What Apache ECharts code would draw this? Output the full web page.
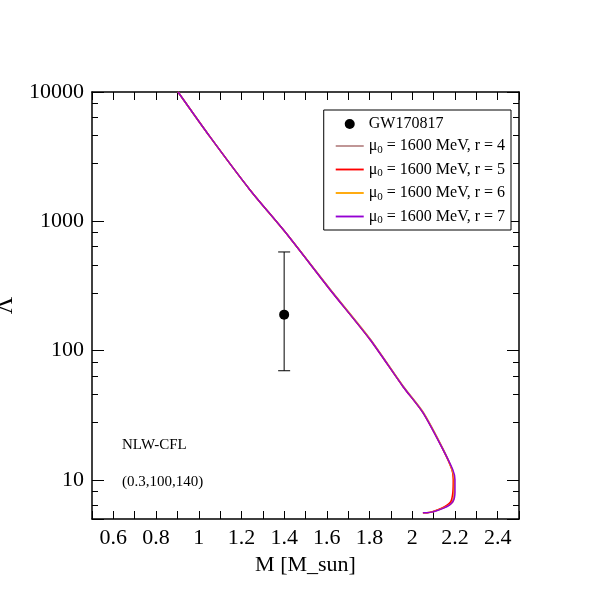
<!DOCTYPE html>
<html>
<head>
<meta charset="utf-8">
<script src="https://cdn.jsdelivr.net/npm/echarts@6/dist/echarts.min.js"></script>
</head>
<body style="margin:0;background:#fff">
<div id="chart" style="width:612px;height:612px"></div>
<script>
// mass (M_sun) and tidal deformability for each r
var massR4 = [0.903, 1.053, 1.24, 1.404, 1.615, 1.802, 1.957, 2.05, 2.144, 2.186, 2.195, 2.195, 2.186, 2.144, 2.069, 2.05];
var lamR4  = [10000, 4495, 1750, 830, 300, 124, 53.5, 33.8, 17.5, 12.2, 10.1, 8.0, 6.8, 6.1, 5.6, 5.6];
var massR5 = [0.903, 1.053, 1.24, 1.404, 1.615, 1.802, 1.957, 2.05, 2.144, 2.186, 2.192, 2.19, 2.18, 2.14, 2.069, 2.05];
var lamR5  = [10000, 4495, 1750, 830, 296, 122, 52.7, 33.2, 17.2, 12.0, 10.1, 8.0, 6.8, 6.1, 5.6, 5.6];
var massR6 = [0.903, 1.053, 1.24, 1.404, 1.615, 1.802, 1.957, 2.05, 2.144, 2.186, 2.197, 2.197, 2.19, 2.147, 2.069, 2.05];
var lamR6  = [10000, 4495, 1750, 830, 298, 123, 53, 33.5, 17.3, 12.1, 10.1, 8.0, 6.8, 6.1, 5.6, 5.6];
var massR7 = [0.903, 1.053, 1.24, 1.404, 1.615, 1.802, 1.957, 2.05, 2.144, 2.19, 2.2, 2.2, 2.19, 2.15, 2.069, 2.05];
var lamR7  = [10000, 4495, 1750, 830, 296, 122, 52.7, 33.2, 17.2, 12.0, 10.1, 8.0, 6.8, 6.1, 5.6, 5.6];
var gwMass = 1.4, gwLam = 190, gwLow = 70, gwHigh = 580;

function zip(a, b) { return a.map(function (v, i) { return [v, b[i]]; }); }
var font = 'Liberation Serif';
var chart = echarts.init(document.getElementById('chart'));

function xAx(show) {
    return {
        type: 'value', min: 0.5, max: 2.5, interval: 0.1,
        position: show ? 'bottom' : 'top',
        name: show ? 'M [M_sun]' : '', nameLocation: 'middle', nameGap: 34,
        nameTextStyle: { fontFamily: font, fontSize: 22, color: '#000' },
        axisLine: { lineStyle: { color: '#000', width: 1.5 } },
        axisTick: { inside: true, length: 8, lineStyle: { color: '#000' } },
        axisLabel: {
            show: show, fontFamily: font, fontSize: 22, color: '#000', margin: 8,
            formatter: function (v) {
                var k = Math.round(v * 10);
                if (k % 2 !== 0) return '';
                return String(k / 10);
            }
        },
        splitLine: { show: false }
    };
}
function yAx(show) {
    return {
        type: 'log', logBase: 10, min: 5, max: 10000,
        position: show ? 'left' : 'right',
        name: show ? 'Λ' : '', nameLocation: 'middle', nameGap: 62, nameRotate: 90,
        nameTextStyle: { fontFamily: font, fontSize: 24, color: '#000' },
        axisLine: { lineStyle: { color: '#000', width: 1.5 } },
        axisTick: { inside: true, length: 12, lineStyle: { color: '#000' } },
        minorTick: { show: true, length: 6, lineStyle: { color: '#000' } },
        axisLabel: {
            show: show, fontFamily: font, fontSize: 22, color: '#000', margin: 8,
            formatter: function (v) { return [10, 100, 1000, 10000].indexOf(Math.round(v)) >= 0 ? String(Math.round(v)) : ''; }
        },
        splitLine: { show: false }
    };
}

function line(name, m, l, color) {
    return {
        name: name, type: 'line', data: zip(m, l), showSymbol: false, symbol: 'none',
        smooth: 0.25, lineStyle: { color: color, width: 1.5 }, itemStyle: { color: color }
    };
}
var sub = function (r) { return '{a|μ}{s|0}{a| = 1600 MeV, r = ' + r + '}'; };
var lineIcon = 'path://M0,0h30v2h-30z';

chart.setOption({
    animation: false,
    grid: { left: 92, right: 93, top: 92, bottom: 93, outerBoundsMode: 'none', containLabel: false },
    xAxis: [xAx(true), xAx(false)],
    yAxis: [yAx(true), yAx(false)],
    legend: {
        orient: 'vertical', right: 101, top: 110, itemWidth: 28, itemHeight: 10, itemGap: 6,
        borderColor: '#000', borderWidth: 1, backgroundColor: '#fff', padding: [6, 6, 4, 12],
        data: [
            { name: 'GW170817', icon: 'circle' },
            { name: 'r4', icon: lineIcon }, { name: 'r5', icon: lineIcon },
            { name: 'r6', icon: lineIcon }, { name: 'r7', icon: lineIcon }
        ],
        formatter: function (n) {
            if (n === 'GW170817') return '{a|GW170817}';
            return sub(n.slice(1));
        },
        textStyle: {
            rich: {
                a: { fontFamily: font, fontSize: 16, color: '#000' },
                s: { fontFamily: font, fontSize: 11, color: '#000', verticalAlign: 'bottom', padding: [8, 0, 0, 0] }
            }
        }
    },
    graphic: [
        { type: 'text', left: 122, top: 438, style: { text: 'NLW-CFL', font: '15px "Liberation Serif"', fill: '#000' } },
        { type: 'text', left: 122, top: 475, style: { text: '(0.3,100,140)', font: '15px "Liberation Serif"', fill: '#000' } }
    ],
    series: [
        {
            name: 'GW170817', type: 'scatter', data: [[gwMass, gwLam]], symbolSize: 10,
            itemStyle: { color: '#000', opacity: 1 }, z: 5
        },
        {
            type: 'custom', data: [[gwMass, gwLow, gwHigh]],
            renderItem: function (params, api) {
                var lo = api.coord([api.value(0), api.value(1)]);
                var hi = api.coord([api.value(0), api.value(2)]);
                var w = 6, st = { stroke: '#000', lineWidth: 1 };
                return { type: 'group', children: [
                    { type: 'line', shape: { x1: lo[0], y1: lo[1], x2: hi[0], y2: hi[1] }, style: st },
                    { type: 'line', shape: { x1: lo[0] - w, y1: lo[1], x2: lo[0] + w, y2: lo[1] }, style: st },
                    { type: 'line', shape: { x1: hi[0] - w, y1: hi[1], x2: hi[0] + w, y2: hi[1] }, style: st }
                ] };
            }
        },
        line('r4', massR4, lamR4, '#bc8f8f'),
        line('r5', massR5, lamR5, '#ff0000'),
        line('r6', massR6, lamR6, '#ffa500'),
        line('r7', massR7, lamR7, '#9400d3')
    ]
});
</script>
</body>
</html>
